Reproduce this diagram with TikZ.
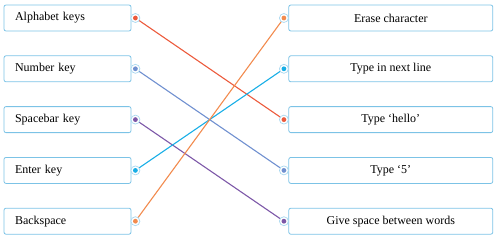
\documentclass[tikz,border=0pt]{standalone}
\usepackage{fontspec}
\setmainfont{Liberation Serif}
\usetikzlibrary{positioning}
\definecolor{boxblue}{HTML}{7CC3E6}
\definecolor{ringblue}{HTML}{A9D8F0}
\definecolor{redline}{HTML}{EC5A3C}
\definecolor{blueline}{HTML}{7090D0}
\definecolor{purpleline}{HTML}{7D58A8}
\definecolor{cyanline}{HTML}{18AEE6}
\definecolor{orangeline}{HTML}{F28B4E}
\tikzset{
  keybox/.style={draw=boxblue, line width=0.8pt, rounded corners=2pt, minimum width=127pt, minimum height=26pt, text width=105pt, align=left, inner sep=0pt, font=\fontsize{12}{14}\selectfont},
  actbox/.style={draw=boxblue, line width=0.8pt, rounded corners=2pt, minimum width=204pt, minimum height=26pt, align=center, inner sep=0pt, font=\fontsize{12}{14}\selectfont},
  link/.style={line width=1.1pt},
  ring/.style={draw=ringblue, line width=0.7pt, fill=white, circle, minimum size=9pt, inner sep=0pt}
}
\newcommand{\pin}[2]{\node[ring] at (#1) {}; \fill[#2] (#1) circle (2.4pt);}

\begin{document}
\begin{tikzpicture}[x=1pt,y=-1pt,node distance=24pt]
  \useasboundingbox (0,0) rectangle (500,236);
  \node[keybox] (alpha) at (67.5,18) {Alphabet keys};
  \node[keybox, below=of alpha] (num) {Number key};
  \node[keybox, below=of num] (space) {Spacebar key};
  \node[keybox, below=of space] (enter) {Enter key};
  \node[keybox, below=of enter] (back) {Backspace};

  \node[actbox, right=157pt of alpha] (erase) {Erase character};
  \node[actbox, below=of erase] (nextline) {Type in next line};
  \node[actbox, below=of nextline] (hello) {Type ‘hello’};
  \node[actbox, below=of hello] (five) {Type ‘5’};
  \node[actbox, below=of five] (gap) {Give space between words};

  % dots beside the boxes
  \foreach \k in {alpha,num,space,enter,back}
    \coordinate (\k-p) at ([xshift=4pt]\k.east);
  \foreach \k in {erase,nextline,hello,five,gap}
    \coordinate (\k-p) at ([xshift=-4.5pt]\k.west);

  \draw[link, redline] (alpha-p) -- (hello-p);
  \draw[link, blueline] (num-p) -- (five-p);
  \draw[link, purpleline] (space-p) -- (gap-p);
  \draw[link, cyanline] (enter-p) -- (nextline-p);
  \draw[link, orangeline] (back-p) -- (erase-p);

  \pin{alpha-p}{redline}
  \pin{num-p}{blueline}
  \pin{space-p}{purpleline}
  \pin{enter-p}{cyanline}
  \pin{back-p}{orangeline}
  \pin{hello-p}{redline}
  \pin{five-p}{blueline}
  \pin{gap-p}{purpleline}
  \pin{nextline-p}{cyanline}
  \pin{erase-p}{orangeline}
\end{tikzpicture}
\end{document}
